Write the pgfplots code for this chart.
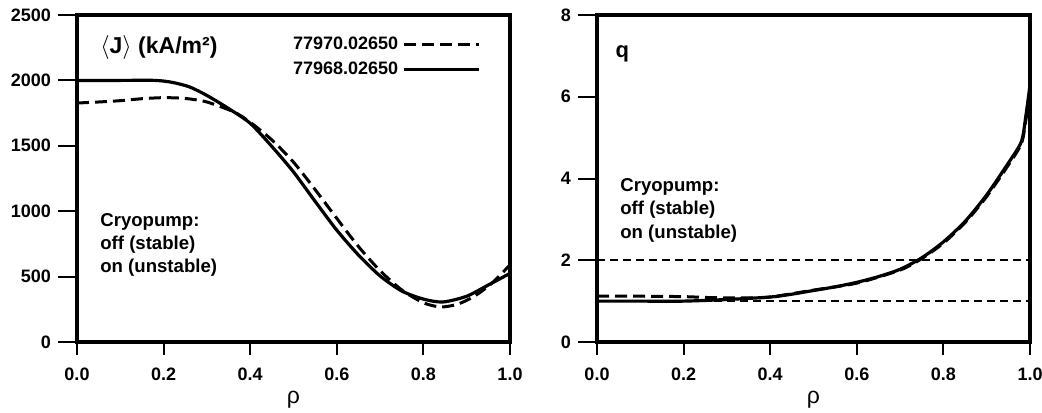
\documentclass[border=0pt]{standalone}
\usepackage{fontspec}
\setmainfont{Liberation Sans}
\usepackage{pgfplots}
\pgfplotsset{compat=1.18}

\pgfplotsset{
  prof/.style={
    scale only axis, width=216.5pt, height=163.5pt,
    xmin=0, xmax=1,
    axis line style={line width=2pt},
    tick align=outside, xtick pos=left, ytick pos=left,
    xtick={0,0.2,0.4,0.6,0.8,1}, xticklabels={0.0,0.2,0.4,0.6,0.8,1.0},
    major tick length=9.5pt,
    tick style={black, line width=1pt},
    xtick style={/pgfplots/major tick length=6.5pt},
    tick label style={font=\bfseries\fontsize{9}{10}\selectfont},
    /pgf/number format/assume math mode=true,
    xlabel={ρ},
    xlabel style={font=\fontsize{11.5}{12}\selectfont, at={(axis description cs:0.5,0)}, anchor=center, yshift=-29pt},
  },
  curve/.style={black, line width=1.6pt, smooth, tension=0.45},
  dcurve/.style={black, line width=1.5pt, smooth, tension=0.45, dash pattern=on 6pt off 3pt},
}

\begin{document}
\begin{tikzpicture}
\path[use as bounding box] (-38.5pt,-35pt) rectangle (482.5pt,171pt);

% current density
\begin{axis}[prof,
    ymin=0, ymax=2500,
    ytick={0,500,1000,1500,2000,2500},
    yticklabels={0,500,1000,1500,2000,2500},
    legend plot pos=right,
    legend image code/.code={\draw[#1, smooth=false] (0pt,0pt) -- (37.5pt,0pt);},
    legend style={draw=none, fill=none, at={(axis cs:0.475,2395)}, anchor=north west,
      font=\bfseries\fontsize{9}{10}\selectfont, row sep=0.5pt,
      cells={anchor=west}},
  ]
\addplot[dcurve] coordinates {
  (0,1827) (0.05,1835) (0.1,1845) (0.15,1860) (0.2,1868) (0.25,1862)
  (0.3,1835) (0.363,1758) (0.4,1680) (0.45,1545) (0.5,1375) (0.55,1165)
  (0.6,945) (0.65,730) (0.7,545) (0.75,398) (0.8,300) (0.84,268)
  (0.88,290) (0.92,355) (0.96,455) (1.0,590)
};
\addlegendentry{77970.02650}
\addplot[curve] coordinates {
  (0,2000) (0.1,2000) (0.18,2000) (0.22,1985) (0.26,1950) (0.3,1885)
  (0.35,1785) (0.4,1672) (0.45,1495) (0.5,1300) (0.55,1075)
  (0.6,855) (0.65,665) (0.7,505) (0.75,390) (0.8,328)
  (0.845,306) (0.9,350) (0.95,436) (1.0,525)
};
\addlegendentry{77968.02650}
\node[anchor=base west, font=\bfseries\fontsize{11.5}{12}\selectfont, inner sep=0]
  at (axis cs:0.053,2209) {$\langle$J$\rangle$ (kA/m²)};
\node[anchor=north west, align=left, inner sep=0,
  font=\bfseries\fontsize{9.3}{11.5}\selectfont]
  at (axis cs:0.053,986) {Cryopump:\\off (stable)\\on (unstable)};
\end{axis}

% safety factor
\begin{axis}[prof, at={(260pt,0pt)},
    ymin=0, ymax=8,
    ytick={0,2,4,6,8},
  ]
\addplot[black, line width=1.2pt, dash pattern=on 4pt off 2.5pt] coordinates {(0,2) (1,2)};
\addplot[black, line width=1.2pt, dash pattern=on 4pt off 2.5pt] coordinates {(0,1) (1,1)};
\addplot[dcurve] coordinates {
  (0,1.12) (0.1,1.12) (0.2,1.11) (0.25,1.09) (0.3,1.08) (0.35,1.08)
  (0.4,1.1) (0.5,1.27) (0.6,1.44) (0.7,1.76) (0.75,2.04) (0.8,2.42)
  (0.85,2.92) (0.9,3.56) (0.95,4.33) (0.98,4.85) (0.99,5.4) (1.0,6.1)
};
\addplot[curve] coordinates {
  (0,1.0) (0.1,1.0) (0.2,1.0) (0.3,1.04) (0.4,1.1) (0.45,1.17) (0.5,1.26)
  (0.55,1.35) (0.6,1.46) (0.65,1.6) (0.7,1.78) (0.75,2.06) (0.8,2.45)
  (0.85,2.95) (0.9,3.6) (0.95,4.38) (0.98,4.9) (0.99,5.5) (1.0,6.29)
};
\node[anchor=base west, font=\bfseries\fontsize{11}{12}\selectfont, inner sep=0]
  at (axis cs:0.042,6.97) {q};
\node[anchor=north west, align=left, inner sep=0,
  font=\bfseries\fontsize{9.3}{11.75}\selectfont]
  at (axis cs:0.053,4.01) {Cryopump:\\off (stable)\\on (unstable)};
\end{axis}
\end{tikzpicture}
\end{document}
